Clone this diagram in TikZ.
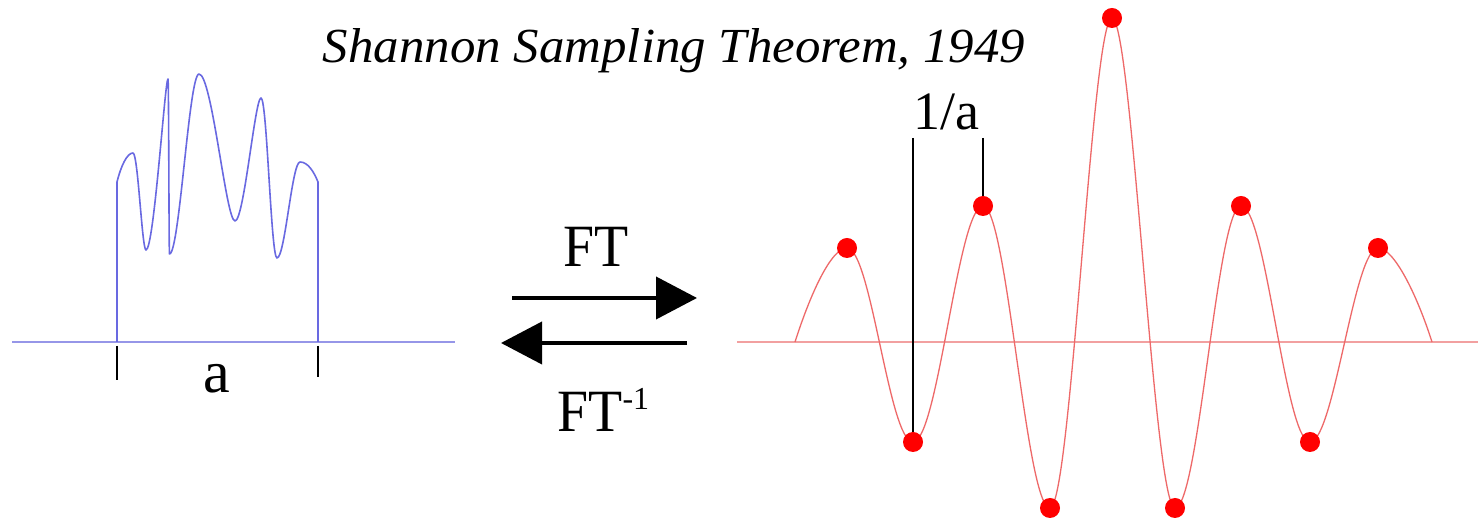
\documentclass[tikz,border=0pt]{standalone}
\usepackage{fontspec}
\setmainfont{Liberation Serif}
\usetikzlibrary{arrows.meta}
\definecolor{bluecurve}{RGB}{105,105,225}
\definecolor{blueaxis}{RGB}{150,150,232}
\definecolor{redcurve}{RGB}{238,105,105}
\definecolor{redaxis}{RGB}{242,160,160}
\definecolor{dotred}{RGB}{255,0,0}
\begin{document}
\begin{tikzpicture}[x=0.5pt,y=-0.5pt,
  lbl/.style={inner sep=0pt,anchor=base,font=\fontsize{30pt}{30pt}\selectfont},
  sample/.style={circle,fill=dotred,draw=none,minimum size=10pt,inner sep=0pt},
  fwd/.style={line width=2pt,-{Triangle[length=20.5pt,width=21pt]}},
  tickline/.style={black,line width=0.75pt},
  bluewave/.style={bluecurve,line width=0.8pt,line join=round},
  redwave/.style={redcurve,line width=0.65pt,line join=round},
  axisblue/.style={blueaxis,line width=1.2pt},
  axisred/.style={redaxis,line width=1.1pt}]
\useasboundingbox[fill=white] (0,0) rectangle (1478,522);

% title
\node[inner sep=0pt,anchor=base] (title) at (674,63)
  {\resizebox{351pt}{17pt}{\itshape Shannon Sampling Theorem, 1949}};

% ---------- left: blue signal ----------
\coordinate (bl) at (12,342);
\coordinate (br) at (455,342);
\draw[axisblue] (bl) -- (br);
\draw[bluewave] (117,342) -- (117,182)
  .. controls (121,166) and (127,153) .. (133,153)
  .. controls +(5,0) and +(-4,0) .. (146,250)
  .. controls +(8,0) and +(-3,0) .. (168,79)
  .. controls +(0.8,0) and +(-0.6,0) .. (169.5,254)
  .. controls +(10,0) and +(-10,0) .. (199,74)
  .. controls +(13,0) and +(-9,0) .. (235,221)
  .. controls +(9,0) and +(-6,0) .. (261,98)
  .. controls +(6,0) and +(-6,0) .. (277,258)
  .. controls +(8,0) and +(-8,0) .. (300,162)
  .. controls (308,162) and (314,172) .. (318,182) -- (318,342);
\coordinate (ta1) at (117,346);
\coordinate (tb1) at (117,380);
\coordinate (ta2) at (318,346);
\coordinate (tb2) at (318,377);
\draw[tickline] (ta1) -- (tb1);
\draw[tickline] (ta2) -- (tb2);
\node[lbl] (alabel) at (217,393) {a};

% ---------- arrows ----------
\coordinate (f1) at (512,298);
\coordinate (f2) at (697,298);
\coordinate (g1) at (687,343);
\coordinate (g2) at (501,343);
\draw[fwd] (f1) -- (f2);
\draw[fwd] (g1) -- (g2);
\node[lbl] (ft) at (596,267) {\scalebox{0.93}[1]{FT}};
\node[lbl,anchor=base west] (fti) at (557,432)
  {\scalebox{0.93}[1]{FT}\raisebox{11pt}{\fontsize{16pt}{16pt}\selectfont -1}};

% ---------- right: sampled sinc ----------
\coordinate (rl) at (737,342);
\coordinate (rr) at (1478,342);
\draw[axisred] (rl) -- (rr);
\coordinate (s0) at (795,342);
\coordinate (s1) at (847,248);
\coordinate (s2) at (913,442);
\coordinate (s3) at (983,206);
\coordinate (s4) at (1050,508);
\coordinate (s5) at (1112,18);
\coordinate (s6) at (1175,508);
\coordinate (s7) at (1241,206);
\coordinate (s8) at (1310,442);
\coordinate (s9) at (1378,248);
\coordinate (s10) at (1432,342);
\draw[redwave] (s0)
  .. controls (810,295) and (831,248) .. (s1)
  .. controls +(24,0) and +(-24,0) .. (s2)
  .. controls +(25,0) and +(-25,0) .. (s3)
  .. controls +(24,0) and +(-24,0) .. (s4)
  .. controls +(21,0) and +(-20,0) .. (s5)
  .. controls +(20,0) and +(-21,0) .. (s6)
  .. controls +(24,0) and +(-24,0) .. (s7)
  .. controls +(25,0) and +(-25,0) .. (s8)
  .. controls +(24,0) and +(-24,0) .. (s9)
  .. controls (1394,248) and (1417,295) .. (s10);
\foreach \i in {1,...,9} {\node[sample] (d\i) at (s\i) {};}

% 1/a spacing marks
\coordinate (m1) at (913,138);
\coordinate (m2) at (983,138);
\draw[tickline] (m1) -- (d2);
\draw[tickline] (m2) -- (d3);
\node[lbl,font=\fontsize{27pt}{27pt}\selectfont] (inva) at (946,130) {1/a};
\end{tikzpicture}
\end{document}
